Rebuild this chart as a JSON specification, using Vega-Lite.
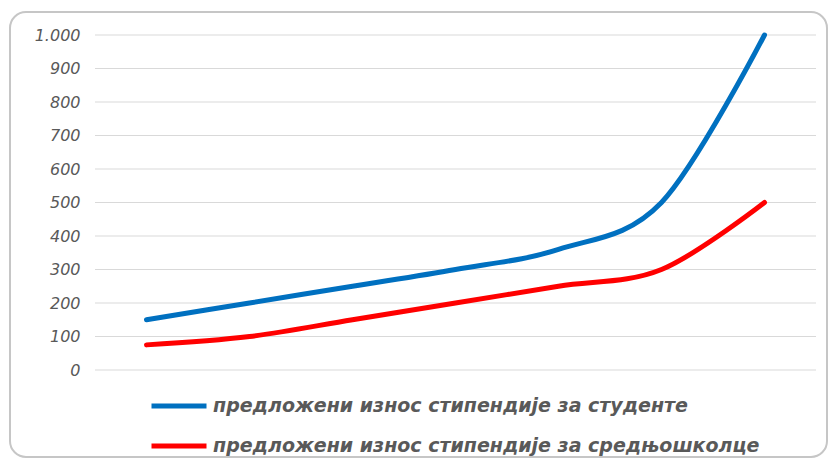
{
  "$schema": "https://vega.github.io/schema/vega-lite/v6.json",
  "width": 817,
  "height": 445,
  "autosize": {"type": "none"},
  "padding": {"left": 10, "top": 12, "right": 2, "bottom": 2},
  "config": {
    "locale": {"number": {"decimal": ",", "thousands": ".", "grouping": [3], "currency": ["", ""]}},
    "view": {"stroke": "#c6c6c6", "strokeWidth": 2, "cornerRadius": 16},
    "font": "DejaVu Sans"
  },
  "datasets": {
    "grid": [
      {"value": 0}, {"value": 100}, {"value": 200}, {"value": 300}, {"value": 400}, {"value": 500},
      {"value": 600}, {"value": 700}, {"value": 800}, {"value": 900}, {"value": 1000}
    ],
    "main": [
      {"i": 1, "value": 150, "series": "предложени износ стипендије за студенте"},
      {"i": 2, "value": 200, "series": "предложени износ стипендије за студенте"},
      {"i": 3, "value": 250, "series": "предложени износ стипендије за студенте"},
      {"i": 4, "value": 300, "series": "предложени износ стипендије за студенте"},
      {"i": 5, "value": 360, "series": "предложени износ стипендије за студенте"},
      {"i": 6, "value": 500, "series": "предложени износ стипендије за студенте"},
      {"i": 7, "value": 1000, "series": "предложени износ стипендије за студенте"},
      {"i": 1, "value": 75, "series": "предложени износ стипендије за средњошколце"},
      {"i": 2, "value": 100, "series": "предложени износ стипендије за средњошколце"},
      {"i": 3, "value": 150, "series": "предложени износ стипендије за средњошколце"},
      {"i": 4, "value": 200, "series": "предложени износ стипендије за средњошколце"},
      {"i": 5, "value": 250, "series": "предложени износ стипендије за средњошколце"},
      {"i": 6, "value": 300, "series": "предложени износ стипендије за средњошколце"},
      {"i": 7, "value": 500, "series": "предложени износ стипендије за средњошколце"}
    ]
  },
  "encoding": {
    "y": {
      "field": "value",
      "type": "quantitative",
      "scale": {"domain": [-259.7, 1068.7], "nice": false, "zero": false},
      "axis": {
        "values": [0, 100, 200, 300, 400, 500, 600, 700, 800, 900, 1000],
        "format": ",d",
        "grid": false,
        "domain": false,
        "ticks": false,
        "labelPadding": 0,
        "offset": -70,
        "title": null,
        "labelFont": "DejaVu Sans",
        "labelFontSize": 16,
        "labelFontStyle": "italic",
        "labelColor": "#595959"
      }
    }
  },
  "layer": [
    {
      "data": {"name": "grid"},
      "mark": {"type": "rule", "color": "#d9d9d9", "strokeWidth": 1},
      "encoding": {
        "x": {"datum": 0.5, "type": "quantitative", "scale": {"domain": [-0.3252, 7.6068], "nice": false, "zero": false}, "axis": null},
        "x2": {"datum": 7.5}
      }
    },
    {
      "data": {"name": "main"},
      "mark": {"type": "line", "interpolate": "cardinal", "strokeWidth": 5, "strokeCap": "round"},
      "encoding": {
        "x": {"field": "i", "type": "quantitative", "scale": {"domain": [-0.3252, 7.6068], "nice": false, "zero": false}, "axis": null},
        "color": {
          "field": "series",
          "type": "nominal",
          "sort": null,
          "scale": {
            "domain": ["предложени износ стипендије за студенте", "предложени износ стипендије за средњошколце"],
            "range": ["#0070C0", "#FF0000"]
          },
          "legend": {
            "orient": "none",
            "legendX": 139,
            "legendY": 364,
            "title": null,
            "padding": 0,
            "symbolType": "stroke",
            "symbolSize": 3025,
            "symbolStrokeWidth": 5,
            "labelOffset": 4,
            "labelFont": "DejaVu Sans",
            "labelFontSize": 19,
            "labelFontWeight": "bold",
            "labelFontStyle": "italic",
            "labelColor": "#595959",
            "labelLimit": 0,
            "rowPadding": 0
          }
        }
      }
    }
  ]
}
